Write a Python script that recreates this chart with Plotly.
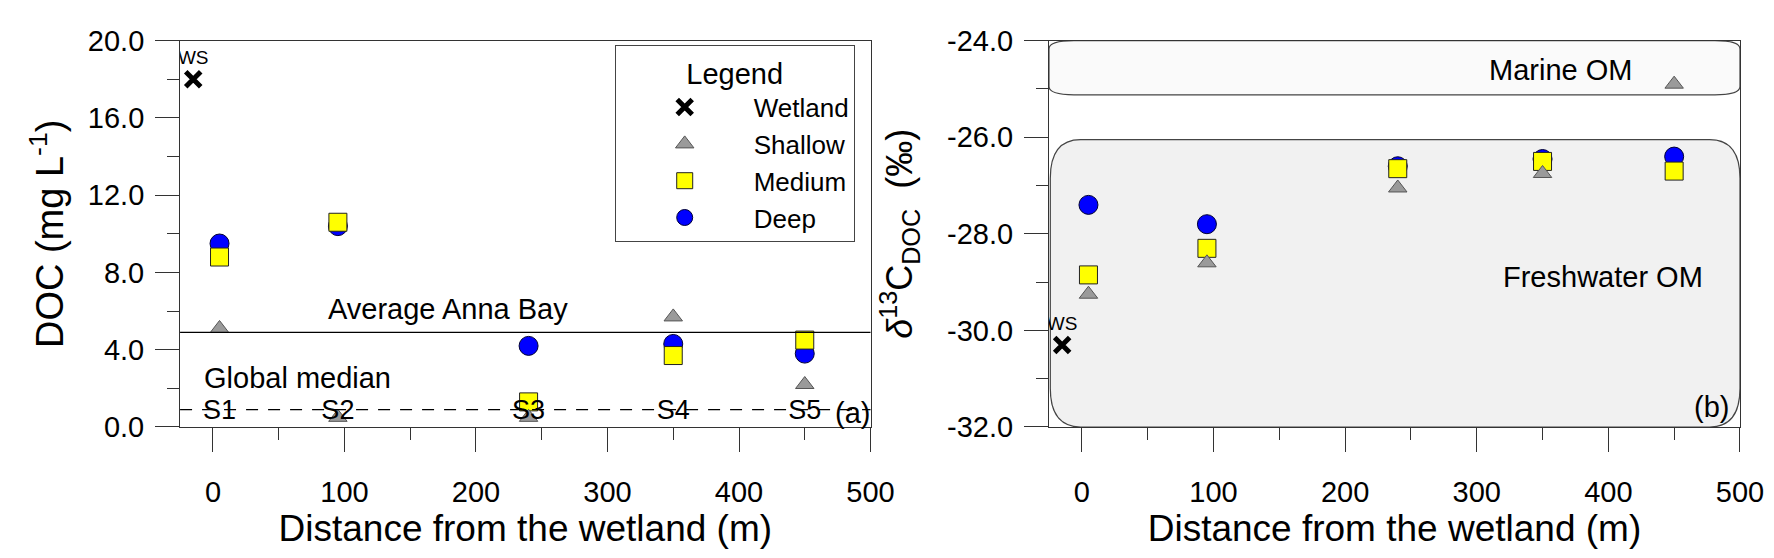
import plotly.graph_objects as go

# sampling stations along the transect (m from wetland)
stations = [5, 95, 240, 350, 450]
station_labels = ["S1", "S2", "S3", "S4", "S5"]
wetland_x = [-15]

# DOC (mg/L)
doc_wetland = [18.0]
doc_shallow = [5.1, 0.5, 0.5, 5.7, 2.2]
doc_medium = [8.8, 10.6, 1.3, 3.7, 4.5]
doc_deep = [9.5, 10.4, 4.2, 4.3, 3.8]
doc_anna_bay = 4.9
doc_global_median = 0.9

# d13C-DOC (permil)
d13c_wetland = [-30.3]
d13c_shallow = [-29.25, -28.6, -27.05, -26.75, -24.9]
d13c_medium = [-28.85, -28.3, -26.65, -26.5, -26.7]
d13c_deep = [-27.4, -27.8, -26.6, -26.45, -26.4]
marine_om = [-24.0, -25.12]
freshwater_om = [-26.05, -32.0]

doc_ticks = [0, 4, 8, 12, 16, 20]
d13c_ticks = [-32, -30, -28, -26, -24]

FONT = "Liberation Sans, Arial, sans-serif"
BLUE = "#0000ff"
YELLOW = "#ffff00"
GREY = "#9a9a9a"


def rounded_box(x0, x1, y0, y1, rx, ry):
    # y0 = top, y1 = bottom
    return (f"M {x0+rx},{y0} L {x1-rx},{y0} Q {x1},{y0} {x1},{y0-ry} "
            f"L {x1},{y1+ry} Q {x1},{y1} {x1-rx},{y1} "
            f"L {x0+rx},{y1} Q {x0},{y1} {x0},{y1+ry} "
            f"L {x0},{y0-ry} Q {x0},{y0} {x0+rx},{y0} Z")


fig = go.Figure()

panels = [
    ("x", "y", doc_wetland, doc_shallow, doc_medium, doc_deep, True),
    ("x2", "y2", d13c_wetland, d13c_shallow, d13c_medium, d13c_deep, False),
]
for xa, ya, wet, sh, med, deep, legend in panels:
    fig.add_trace(go.Scatter(x=stations, y=deep, mode="markers", name="Deep",
                             xaxis=xa, yaxis=ya, showlegend=legend,
                             marker=dict(symbol="circle", size=19, color=BLUE,
                                         line=dict(color="#000033", width=1))))
    fig.add_trace(go.Scatter(x=stations, y=med, mode="markers", name="Medium",
                             xaxis=xa, yaxis=ya, showlegend=legend,
                             marker=dict(symbol="square", size=18, color=YELLOW,
                                         line=dict(color="#222", width=1))))
    fig.add_trace(go.Scatter(x=stations, y=sh, mode="markers", name="Shallow",
                             xaxis=xa, yaxis=ya, showlegend=legend,
                             marker=dict(symbol="triangle-up", size=16, color=GREY,
                                         line=dict(color="#555", width=1))))
    fig.add_trace(go.Scatter(x=wetland_x, y=wet, mode="markers+text", name="Wetland",
                             xaxis=xa, yaxis=ya, showlegend=legend,
                             text=["WS"], textposition="top center",
                             textfont=dict(size=19, family=FONT, color="black"),
                             marker=dict(symbol="x-thin", size=15, color="black",
                                         line=dict(color="black", width=5))))

# station names along the bottom of panel (a)
fig.add_trace(go.Scatter(x=stations, y=[0.75] * len(stations), mode="text",
                         text=station_labels, showlegend=False,
                         textfont=dict(size=27, family=FONT, color="black"),
                         xaxis="x", yaxis="y"))

# reference lines (a)
fig.add_shape(type="line", xref="x domain", yref="y", x0=0, x1=1,
              y0=doc_anna_bay, y1=doc_anna_bay, line=dict(color="black", width=1.3))
fig.add_shape(type="line", xref="x domain", yref="y", x0=0, x1=1,
              y0=doc_global_median, y1=doc_global_median,
              line=dict(color="black", width=1.2, dash="12px,10px"))

# OM source envelopes (b)
fig.add_shape(type="path", xref="x2", yref="y2", layer="below",
              path=rounded_box(-25, 500, marine_om[0], marine_om[1], 19, 0.17),
              fillcolor="#fafafa", line=dict(color="#444", width=1.2))
fig.add_shape(type="path", xref="x2", yref="y2", layer="below",
              path=rounded_box(-24, 500, freshwater_om[0], freshwater_om[1], 23, 0.8),
              fillcolor="#f1f1f1", line=dict(color="#444", width=1.2))

ann = dict(showarrow=False, font=dict(size=29, family=FONT, color="black"))
fig.add_annotation(x=179, y=6.1, xref="x", yref="y", text="Average Anna Bay", **ann)
fig.add_annotation(x=64, y=2.55, xref="x", yref="y", text="Global median", **ann)
fig.add_annotation(x=486, y=0.75, xref="x", yref="y", text="(a)", **ann)
fig.add_annotation(x=364, y=-24.6, xref="x2", yref="y2", text="Marine OM", **ann)
fig.add_annotation(x=396, y=-28.9, xref="x2", yref="y2", text="Freshwater OM", **ann)
fig.add_annotation(x=478, y=-31.58, xref="x2", yref="y2", text="(b)", **ann)

axis_style = dict(showline=True, linecolor="#333", linewidth=1, mirror=True,
                  ticks="outside", ticklen=24, tickcolor="#333", tickwidth=1,
                  showgrid=False, zeroline=False, automargin=False,
                  tickfont=dict(size=29, family=FONT, color="black"))

xaxis_style = dict(axis_style, range=[-25, 500], tick0=0, dtick=100,
                   ticklabelstandoff=15,
                   minor=dict(dtick=50, ticklen=12, ticks="outside", tickcolor="#333"),
                   title=dict(text="Distance from the wetland (m)", standoff=8,
                              font=dict(size=37, family=FONT, color="black")))

fig.update_layout(
    width=1774, height=558,
    margin=dict(l=0, r=0, t=0, b=0),
    paper_bgcolor="white", plot_bgcolor="white",
    font=dict(family=FONT, color="black"),
    xaxis=dict(xaxis_style, domain=[0.0970, 0.4862], anchor="y"),
    xaxis2=dict(xaxis_style, domain=[0.5868, 0.9763], anchor="y2"),
    yaxis=dict(axis_style, domain=[0.2491, 0.9414], anchor="x", range=[0, 20],
               tickvals=doc_ticks, ticktext=[f"{v:.1f}" for v in doc_ticks],
               ticklabelstandoff=5,
               minor=dict(dtick=2, ticklen=12, ticks="outside", tickcolor="#333"),
               title=dict(text="DOC (mg L<sup>-1</sup>)", standoff=12,
                          font=dict(size=38, family=FONT, color="black"))),
    yaxis2=dict(axis_style, domain=[0.2491, 0.9414], anchor="x2", range=[-32, -24],
                tickvals=d13c_ticks, ticktext=[f"{v:.1f}" for v in d13c_ticks],
                ticklabelstandoff=5,
                minor=dict(dtick=1, ticklen=12, ticks="outside", tickcolor="#333"),
                title=dict(text="<i>δ</i><sup>13</sup>C<sub>DOC</sub>  (‰)", standoff=23,
                           font=dict(size=36, family=FONT, color="black"))),
    legend=dict(x=0.342, y=0.9337, xanchor="left", yanchor="top",
                traceorder="reversed", itemwidth=128, itemsizing="trace",
                bgcolor="white", bordercolor="#444", borderwidth=1,
                font=dict(size=26, family=FONT, color="black"),
                title=dict(text="Legend", side="top center",
                           font=dict(size=29, family=FONT, color="black"))),
)

fig.write_html("out.html")
